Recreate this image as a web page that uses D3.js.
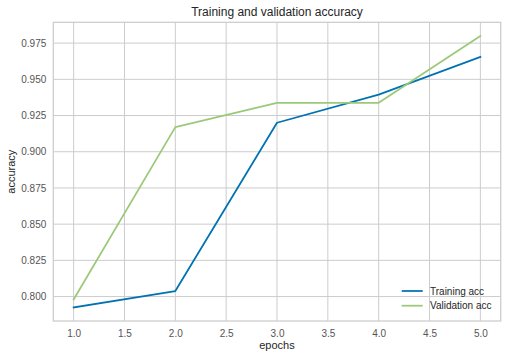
<!DOCTYPE html>
<html><head><meta charset="utf-8">
<script src="https://cdn.jsdelivr.net/npm/d3@7"></script>
<style>body{margin:0;background:#fff;} text{font-family:"Liberation Sans",Arial,sans-serif;}</style>
</head><body>
<svg id="c" width="507" height="359"></svg>
<script>
const epochs = [1, 2, 3, 4, 5];
const trainingAcc = [0.7925, 0.8038, 0.9200, 0.9394, 0.9655];
const validationAcc = [0.7980, 0.9170, 0.9338, 0.9338, 0.9800];
const xTicks = [1.0, 1.5, 2.0, 2.5, 3.0, 3.5, 4.0, 4.5, 5.0];
const yTicks = [0.800, 0.825, 0.850, 0.875, 0.900, 0.925, 0.950, 0.975];
const seriesNames = ["Training acc", "Validation acc"];
const seriesColors = ["#0072B2", "#9BC97A"];

const svg = d3.select("#c");
const L = 53.3, R = 500.7, T = 22.3, B = 321;
const x = d3.scaleLinear().domain([0.8, 5.2]).range([L, R]);
const allV = trainingAcc.concat(validationAcc);
const vmin = d3.min(allV), vmax = d3.max(allV), pad = (vmax - vmin) * 0.05;
const y = d3.scaleLinear().domain([vmin - pad, vmax + pad]).range([B, T]);

// grid
const g = svg.append("g");
g.selectAll(".vg").data(xTicks).join("line")
  .attr("x1", d => x(d)).attr("x2", d => x(d)).attr("y1", T).attr("y2", B)
  .attr("stroke", "#cccccc").attr("stroke-width", 1);
g.selectAll(".hg").data(yTicks).join("line")
  .attr("x1", L).attr("x2", R).attr("y1", d => y(d)).attr("y2", d => y(d))
  .attr("stroke", "#cccccc").attr("stroke-width", 1);
svg.append("rect").attr("x", L).attr("y", T).attr("width", R - L).attr("height", B - T)
  .attr("fill", "none").attr("stroke", "#cccccc").attr("stroke-width", 1.25);

// axes via d3
const xa = svg.append("g").attr("transform", `translate(0,${B})`)
  .call(d3.axisBottom(x).tickValues(xTicks).tickFormat(d3.format(".1f")).tickSize(0).tickPadding(9));
const ya = svg.append("g").attr("transform", `translate(${L},0)`)
  .call(d3.axisLeft(y).tickValues(yTicks).tickFormat(d3.format(".3f")).tickSize(0).tickPadding(7));
[xa, ya].forEach(a => {
  a.select(".domain").remove();
  a.selectAll("text").attr("fill", "#555555").attr("font-size", "10px")
    .attr("font-family", "Liberation Sans, Arial, sans-serif");
});

// lines
const line = d3.line().x((d, i) => x(epochs[i])).y(d => y(d));
[trainingAcc, validationAcc].forEach((s, k) => {
  svg.append("path").datum(s).attr("d", line).attr("fill", "none")
    .attr("stroke", seriesColors[k]).attr("stroke-width", 1.75)
    .attr("stroke-linejoin", "round").attr("stroke-linecap", "square");
});

// title & labels
svg.append("text").attr("x", (L + R) / 2).attr("y", 16).attr("text-anchor", "middle")
  .attr("font-size", "12px").attr("fill", "#262626").text("Training and validation accuracy");
svg.append("text").attr("x", (L + R) / 2).attr("y", 349).attr("text-anchor", "middle")
  .attr("font-size", "11px").attr("fill", "#262626").text("epochs");
svg.append("text").attr("transform", `translate(15,${(T + B) / 2}) rotate(-90)`)
  .attr("text-anchor", "middle").attr("font-size", "11px").attr("fill", "#262626").text("accuracy");

// legend
const lg = svg.append("g");
seriesNames.forEach((n, k) => {
  const yy = 291 + k * 14.7;
  lg.append("line").attr("x1", 401.7).attr("x2", 422.7).attr("y1", yy).attr("y2", yy)
    .attr("stroke", seriesColors[k]).attr("stroke-width", 1.75);
  lg.append("text").attr("x", 430).attr("y", yy + 3.5).attr("font-size", "10px")
    .attr("fill", "#262626").text(n);
});
</script>
</body></html>
